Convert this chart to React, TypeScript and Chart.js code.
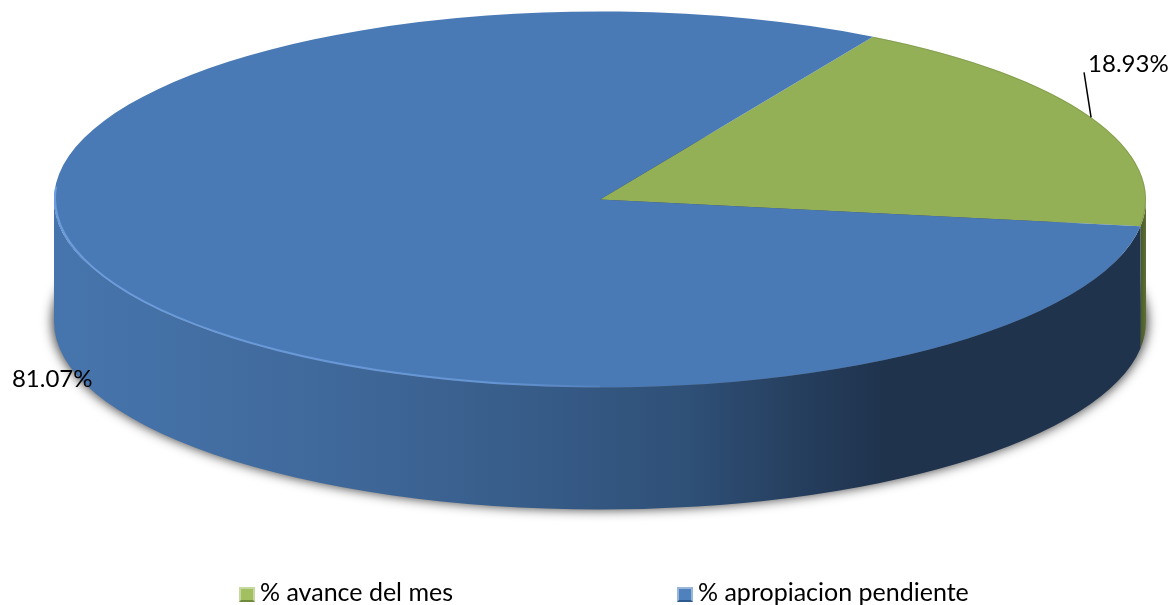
import React, { useEffect, useRef } from "react";
import { Chart, registerables } from "chart.js";

Chart.register(...registerables);

const categories = ["% avance del mes", "% apropiacion pendiente"];
const values = [18.93, 81.07];
const valueLabels = ["18.93%", "81.07%"];
const topColors = ["#93b056", "#4a7ab5"];
const legendX = [239, 677];
const iconColors = [
  ["#a3c060", "#c6d9a0", "#6f8a3a"],
  ["#4f81bd", "#98b6da", "#2f5a8f"],
];

const CX = 600, CY = 199.5, RX = 546, RY = 188, DEPTH = 122;
const FONT = "Lato, Carlito, sans-serif";

function drawIcon(ctx: CanvasRenderingContext2D, x: number, y: number, c: string[]) {
  const w = 16, h = 15;
  ctx.fillStyle = c[1];
  ctx.fillRect(x, y, w, h);
  ctx.fillStyle = c[2];
  ctx.beginPath();
  ctx.moveTo(x, y + h); ctx.lineTo(x + w, y + h); ctx.lineTo(x + w - 2, y + h - 2); ctx.lineTo(x + 2, y + h - 2);
  ctx.closePath(); ctx.fill();
  ctx.fillStyle = c[0];
  ctx.fillRect(x + 2, y + 2, w - 4, h - 4);
}

const tiltPlugin = {
  id: "tilt3d",
  beforeDatasetsDraw(chart: any) {
    const ctx = chart.ctx;
    const arcs = chart.getDatasetMeta(0).data;
    const greenEnd = arcs[0].endAngle;

    // soft shadow under the disc (the shape itself is drawn off-canvas)
    ctx.save();
    ctx.shadowColor = "rgba(30,30,30,0.8)";
    ctx.shadowBlur = 11;
    ctx.shadowOffsetX = 3000;
    ctx.fillStyle = "#000";
    ctx.beginPath();
    ctx.ellipse(CX - 3000, CY + DEPTH, RX + 2, RY + 0.5, 0, 0, Math.PI * 2);
    ctx.fill();
    ctx.restore();

    // side wall
    const wall = (a0: number, a1: number, fill: any) => {
      ctx.beginPath();
      ctx.ellipse(CX, CY, RX, RY, 0, a0, a1);
      ctx.ellipse(CX, CY + DEPTH, RX, RY, 0, a1, a0, true);
      ctx.closePath();
      ctx.fillStyle = fill;
      ctx.fill();
    };
    const g = ctx.createLinearGradient(CX - RX, 0, CX + RX, 0);
    g.addColorStop(0, "#4675ad");
    g.addColorStop(0.25, "#40699b");
    g.addColorStop(0.45, "#365b87");
    g.addColorStop(0.58, "#2f5077");
    g.addColorStop(0.68, "#263f5f");
    g.addColorStop(0.76, "#1f334d");
    g.addColorStop(1, "#1f334d");
    const gg = ctx.createLinearGradient(CX + RX - 8, 0, CX + RX, 0);
    gg.addColorStop(0, "#3e4d28");
    gg.addColorStop(1, "#5f7033");
    wall(0, greenEnd, gg);
    wall(greenEnd, Math.PI, g);

    // top of the disc: the pie itself, flattened
    const { x, y, outerRadius } = arcs[0];
    ctx.save();
    ctx.translate(CX, CY);
    ctx.scale(RX / outerRadius, RY / outerRadius);
    ctx.translate(-x, -y);
  },
  afterDatasetsDraw(chart: any) {
    const ctx = chart.ctx;
    ctx.restore();
    const arcs = chart.getDatasetMeta(0).data;

    // rim highlight on the blue slice
    const rim = ctx.createLinearGradient(CX - RX, 0, CX + 40, 0);
    rim.addColorStop(0, "rgba(112,160,224,0.9)");
    rim.addColorStop(0.75, "rgba(112,160,224,0.7)");
    rim.addColorStop(1, "rgba(112,160,224,0)");
    ctx.strokeStyle = rim;
    ctx.lineWidth = 2;
    ctx.beginPath();
    ctx.ellipse(CX, CY - 1, RX - 1, RY, 0, Math.PI / 2, Math.PI * 1.02);
    ctx.stroke();

    // faint darker rim on the green slice
    ctx.strokeStyle = "rgba(110,130,70,0.4)";
    ctx.lineWidth = 1;
    ctx.beginPath();
    ctx.ellipse(CX, CY, RX - 0.5, RY - 0.5, 0, arcs[0].startAngle, arcs[0].endAngle);
    ctx.stroke();

    // value labels and leader line
    ctx.fillStyle = "#000";
    ctx.font = `24px ${FONT}`;
    ctx.textBaseline = "middle";
    ctx.textAlign = "left";
    const rimPoint = (arc: any) => {
      const m = (arc.startAngle + arc.endAngle) / 2;
      return [CX + RX * Math.cos(m), CY + RY * Math.sin(m)];
    };
    const [gx, gy] = rimPoint(arcs[0]);
    ctx.strokeStyle = "#000";
    ctx.lineWidth = 1.5;
    ctx.beginPath();
    ctx.moveTo(gx, gy);
    ctx.lineTo(gx - 7, gy - 45);
    ctx.stroke();
    ctx.fillText(valueLabels[0], gx - 3, gy - 53);
    const [bx, by] = rimPoint(arcs[1]);
    ctx.fillText(valueLabels[1], bx - 97, by + 98);

    // legend
    ctx.font = `25px ${FONT}`;
    categories.forEach((text, i) => {
      drawIcon(ctx, legendX[i], 587, iconColors[i]);
      ctx.fillStyle = "#000";
      ctx.fillText(text, legendX[i] + 21, 593);
    });
  },
};

export default function App() {
  const ref = useRef<HTMLCanvasElement>(null);
  useEffect(() => {
    document.body.style.margin = "0";
    const chart = new Chart(ref.current!, {
      type: "pie",
      data: {
        labels: categories,
        datasets: [{ data: values, backgroundColor: topColors, borderWidth: 0, clip: false } as any],
      },
      plugins: [tiltPlugin],
      options: {
        responsive: false,
        animation: false,
        rotation: 30,
        plugins: {
          tooltip: { enabled: false },
          legend: { display: false },
        },
      } as any,
    });
    return () => chart.destroy();
  }, []);
  return <canvas ref={ref} width={1172} height={605} style={{ display: "block" }} />;
}
